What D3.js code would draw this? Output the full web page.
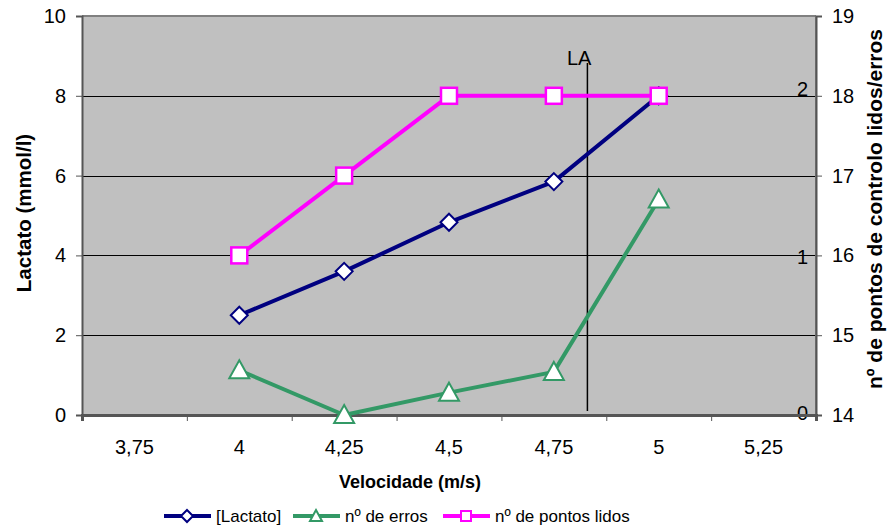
<!DOCTYPE html>
<html><head><meta charset="utf-8">
<script src="https://cdn.jsdelivr.net/npm/d3@7"></script>
<style>body{margin:0;background:#fff}svg{display:block}</style>
</head><body><svg id="c" width="888" height="531"></svg>
<script>
const velocidades = [4, 4.25, 4.5, 4.75, 5];
const lactato = [2.5, 3.6, 4.83, 5.85, 8.0];
const erros = [0.28, 0, 0.14, 0.27, 1.35];
const pontosLidos = [16, 17, 18, 18, 18];
const xTicks = [3.75, 4, 4.25, 4.5, 4.75, 5, 5.25];
const xBounds = [3.625, 3.875, 4.125, 4.375, 4.625, 4.875, 5.125, 5.375];
const leftTicks = [0, 2, 4, 6, 8, 10];
const rightTicks = [14, 15, 16, 17, 18, 19];
const errosTicks = [0, 1, 2];
const laVelocidade = 4.83;
const laRange = [0.1, 8.82];

const FONT = "Liberation Sans";
const FS = 20;
const svg = d3.select("#c");
const L = 82, R = 816, T = 16, B = 415;
const x = d3.scaleLinear().domain([3.625, 5.375]).range([L, R]);
const yL = d3.scaleLinear().domain([0, 10]).range([B, T]);
const yR = d3.scaleLinear().domain([14, 19]).range([B, T]);
const yE = d3.scaleLinear().domain([0, 2.5]).range([B, T]);
const fmt = d => String(d).replace(".", ",");

svg.append("rect").attr("x", L).attr("y", T).attr("width", R - L).attr("height", B - T).attr("fill", "#c0c0c0");
// gridlines
svg.append("g").selectAll("line").data(leftTicks.filter(d => d > 0 && d < 10)).join("line")
  .attr("x1", L).attr("x2", R).attr("y1", d => Math.round(yL(d)) + 0.5).attr("y2", d => Math.round(yL(d)) + 0.5)
  .attr("stroke", "#000").attr("stroke-width", 1);
// borders
svg.append("line").attr("x1", L).attr("x2", R).attr("y1", T).attr("y2", T).attr("stroke", "#808080").attr("stroke-width", 2);
svg.append("line").attr("x1", R).attr("x2", R).attr("y1", T).attr("y2", B).attr("stroke", "#808080").attr("stroke-width", 2);

// left axis
const gl = svg.append("g").attr("transform", `translate(${L},0)`)
  .call(d3.axisLeft(yL).tickValues(leftTicks).tickSize(6).tickPadding(10).tickFormat(fmt));
gl.attr("font-family", FONT).attr("font-size", FS);
gl.select(".domain").attr("stroke", "#555").attr("stroke-width", 2);
gl.selectAll(".tick line").attr("stroke", "#555");
gl.selectAll("text").attr("fill", "#000");

// right axis
const gr = svg.append("g").attr("transform", `translate(${R},0)`)
  .call(d3.axisRight(yR).tickValues(rightTicks).tickSize(6).tickPadding(10).tickFormat(fmt));
gr.attr("font-family", FONT).attr("font-size", FS);
gr.select(".domain").attr("stroke", "#555").attr("stroke-width", 2);
gr.selectAll(".tick line").attr("stroke", "#555");
gr.selectAll("text").attr("fill", "#000");

// erros labels (inside)
svg.append("g").attr("font-family", FONT).attr("font-size", FS).selectAll("text").data(errosTicks).join("text")
  .attr("x", R - 8).attr("y", d => yE(d) + (d === 2 ? 0 : d === 0 ? 5 : 9))
  .attr("text-anchor", "end").text(d => d);

// x axis
const gx = svg.append("g").attr("transform", `translate(0,${B})`)
  .call(d3.axisBottom(x).tickValues(xBounds).tickSize(6).tickFormat(""));
gx.select(".domain").attr("stroke", "#555").attr("stroke-width", 3);
gx.selectAll(".tick line").attr("stroke", "#555");
svg.append("g").attr("font-family", FONT).attr("font-size", FS).selectAll("text").data(xTicks).join("text")
  .attr("x", d => x(d)).attr("y", B + 39).attr("text-anchor", "middle").text(fmt);

// titles
const tg = svg.append("g").attr("font-family", FONT).attr("font-weight", "bold");
tg.append("text").attr("x", 410).attr("y", 488).attr("font-size", 18).attr("text-anchor", "middle").text("Velocidade (m/s)");
tg.append("text").attr("transform", "translate(31,213) rotate(-90)").attr("font-size", 20.5).attr("text-anchor", "middle").text("Lactato (mmol/l)");
tg.append("text").attr("transform", "translate(882,209) rotate(-90)").attr("font-size", 21).attr("text-anchor", "middle").text("nº de pontos de controlo lidos/erros");

// LA line
svg.append("text").attr("x", x(laVelocidade) + 4).attr("y", 65).attr("text-anchor", "end").attr("font-family", FONT).attr("font-size", FS).text("LA");
svg.append("line").attr("x1", x(laVelocidade)).attr("x2", x(laVelocidade)).attr("y1", yL(laRange[1])).attr("y2", yL(laRange[0]))
  .attr("stroke", "#000").attr("stroke-width", 1.5);

function series(vals, ys, color, shape) {
  const pts = velocidades.map((v, i) => [x(v), ys(vals[i])]);
  svg.append("path").attr("d", d3.line()(pts)).attr("fill", "none").attr("stroke", color).attr("stroke-width", 4).attr("stroke-linejoin", "round");
  const g = svg.append("g");
  pts.forEach(p => drawMarker(g, p[0], p[1], color, shape));
}
function drawMarker(g, cx, cy, color, shape) {
  if (shape === "diamond") {
    g.append("path").attr("d", `M${cx},${cy - 8.5}L${cx + 8.5},${cy}L${cx},${cy + 8.5}L${cx - 8.5},${cy}Z`)
      .attr("fill", "#fff").attr("stroke", color).attr("stroke-width", 2);
  } else if (shape === "triangle") {
    g.append("path").attr("d", `M${cx},${cy - 10}L${cx + 10},${cy + 8}L${cx - 10},${cy + 8}Z`)
      .attr("fill", "#fff").attr("stroke", color).attr("stroke-width", 2);
  } else {
    g.append("rect").attr("x", cx - 8).attr("y", cy - 8).attr("width", 16).attr("height", 16)
      .attr("fill", "#fff").attr("stroke", color).attr("stroke-width", 2.5);
  }
}
series(lactato, yL, "#000080", "diamond");
series(erros, yE, "#339966", "triangle");
series(pontosLidos, yR, "#ff00ff", "square");

// legend
const legend = [
  {label: "[Lactato]", color: "#000080", shape: "diamond", x0: 164},
  {label: "nº de erros", color: "#339966", shape: "triangle", x0: 293},
  {label: "nº de pontos lidos", color: "#ff00ff", shape: "square", x0: 443}
];
const lg = svg.append("g").attr("font-family", FONT).attr("font-size", 17);
legend.forEach(d => {
  const ly = 516;
  lg.append("line").attr("x1", d.x0).attr("x2", d.x0 + 47).attr("y1", ly).attr("y2", ly).attr("stroke", d.color).attr("stroke-width", 4);
  if (d.shape === "diamond") lg.append("path").attr("d", `M${d.x0 + 23},${ly - 6}L${d.x0 + 29},${ly}L${d.x0 + 23},${ly + 6}L${d.x0 + 17},${ly}Z`).attr("fill", "#fff").attr("stroke", d.color).attr("stroke-width", 2);
  else if (d.shape === "triangle") lg.append("path").attr("d", `M${d.x0 + 23},${ly - 6}L${d.x0 + 29},${ly + 5}L${d.x0 + 17},${ly + 5}Z`).attr("fill", "#fff").attr("stroke", d.color).attr("stroke-width", 2);
  else lg.append("rect").attr("x", d.x0 + 18).attr("y", ly - 5).attr("width", 10).attr("height", 10).attr("fill", "#fff").attr("stroke", d.color).attr("stroke-width", 2);
  lg.append("text").attr("x", d.x0 + 52).attr("y", ly + 6).text(d.label);
});
</script></body></html>
